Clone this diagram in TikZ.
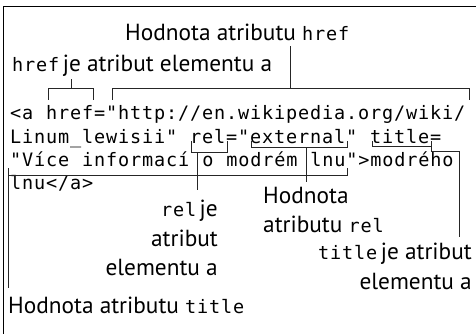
\documentclass[tikz,border=0pt]{standalone}
\usepackage{fontspec}
\setmainfont{PT Sans}
\newfontfamily\codefont{DejaVu Sans Mono}[LetterSpace=4.65,WordSpace=1.077]
\newcommand\mycode[1]{{\codefont\fontsize{18.5}{22}\selectfont #1}}
\tikzset{
  codeline/.style={inner sep=0pt, anchor=base west, font=\codefont\fontsize{18.5}{22}\selectfont},
  lbl/.style={inner sep=0pt, font=\fontsize{23.3}{28}\selectfont},
  brk/.style={line width=0.9pt, draw=black!85},
  frame/.style={line width=1pt, draw=black}
}
\begin{document}
\begin{tikzpicture}[x=1pt,y=-1pt]
\useasboundingbox (0,0) rectangle (476,334);
\draw[frame] (3,334) -- (3,7) -- (476,7);
% code
\node[codeline] (l1) at (10,120) {<a href="http://en.wikipedia.org/wiki/};
\node[codeline] (l2) at (10,143) {Linum\_lewisii" rel="external" title=};
\node[codeline] (l3) at (10,166) {"Více informací o modrém lnu">modrého};
\node[codeline] (l4) at (10,189) {lnu</a>};
% labels
\node[lbl, anchor=base west] (tHref) at (125,41) {Hodnota atributu \mycode{href}};
\node[lbl, anchor=base west] (tAttr) at (12,72) {\mycode{href}\hspace{3.5pt}je atribut elementu a};
\node[lbl, anchor=base east] (rel1) at (218,216) {\mycode{rel}\hspace{3.5pt}je};
\node[lbl, anchor=base east] (rel2) at (218,246) {atribut};
\node[lbl, anchor=base east] (rel3) at (218,275) {elementu a};
\node[lbl, anchor=base west] (rv1) at (263,203) {Hodnota};
\node[lbl, anchor=base west] (rv2) at (263,232) {atributu \mycode{rel}};
\node[lbl, anchor=base east] (ti1) at (472,259) {\mycode{title}\hspace{3.5pt}je atribut};
\node[lbl, anchor=base east] (ti2) at (472,289) {elementu a};
\node[lbl, anchor=base west] (tv) at (8,313) {Hodnota atributu \mycode{title}};
% brackets
\draw[brk] (48,100) -- (48,88) -- (93,88) -- (93,100);
\draw[brk] (71,88) -- (71,79);
\draw[brk] (112,100) -- (112,88) -- (469,88) -- (469,100);
\draw[brk] (290,88) -- (290,46);
\draw[brk] (191,141) -- (191,152) -- (227,152) -- (227,141);
\draw[brk] (197,152) -- (197,190);
\draw[brk] (251,141) -- (251,147) -- (347,147) -- (347,141);
\draw[brk] (306,147) -- (306,182);
\draw[brk] (372,141) -- (372,146) -- (431,146);
\draw[brk] (431,141) -- (431,151) -- (459,151) -- (459,237);
\draw[brk] (8,168) -- (8,288);
\draw[brk] (8,175) -- (347,175) -- (347,168);
\end{tikzpicture}
\end{document}
